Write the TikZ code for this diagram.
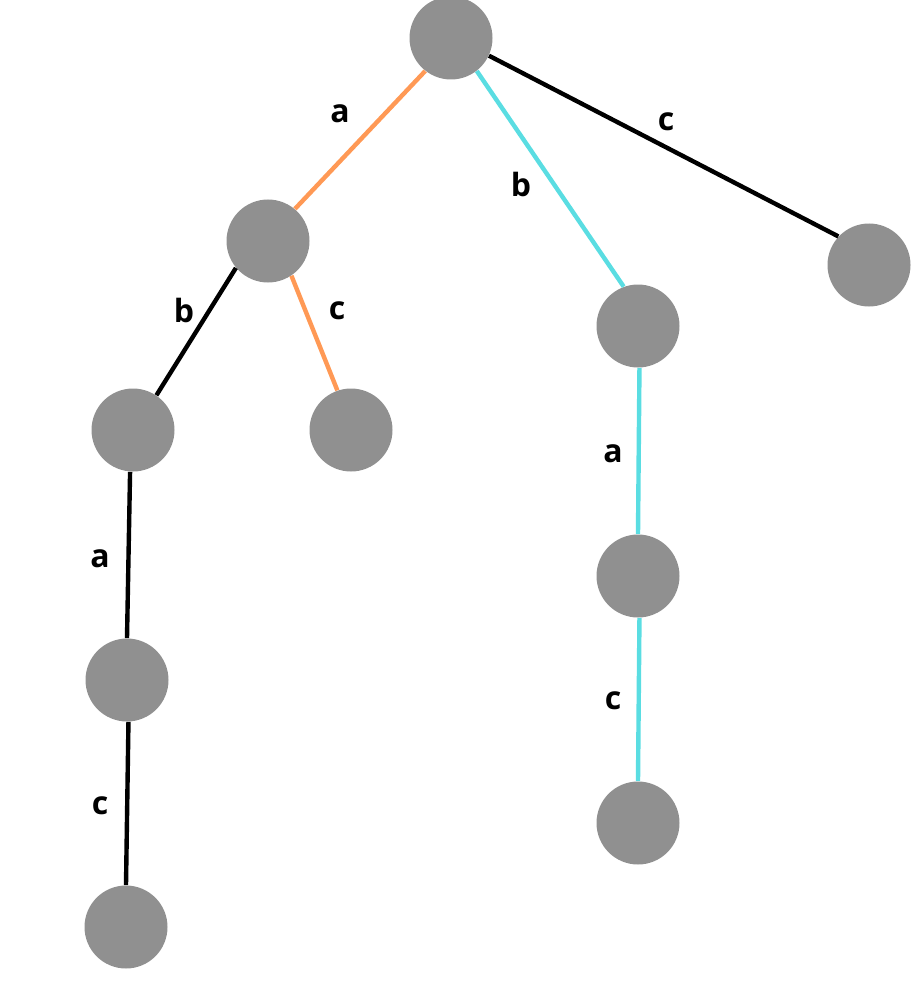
\documentclass[tikz,border=0pt]{standalone}
\usepackage{fontspec}
\setmainfont{Open Sans}
\definecolor{ngray}{HTML}{909090}
\definecolor{eorange}{HTML}{FF9955}
\definecolor{ecyan}{HTML}{5ADDE2}
\begin{document}
\begin{tikzpicture}[x=0.5pt,y=-0.5pt,
  vtx/.style={circle,fill=ngray,draw=none,minimum size=41.5pt,inner sep=0pt},
  edge/.style={line width=2.2pt},
  lbl/.style={font=\fontsize{16}{18}\selectfont\bfseries,inner sep=0pt}]
\useasboundingbox (0,0) rectangle (918,984);
\node[vtx] (r) at (451,38) {};
\node[vtx] (a) at (268,241) {};
\node[vtx] (b) at (638,326) {};
\node[vtx] (c) at (869,265) {};
\node[vtx] (ab) at (133,430) {};
\node[vtx] (ac) at (351,430) {};
\node[vtx] (aba) at (127,680) {};
\node[vtx] (abac) at (126,927) {};
\node[vtx] (ba) at (638,576) {};
\node[vtx] (bac) at (638,823) {};
\draw[edge,eorange] (r.232) -- (a.50);
\draw[edge,ecyan] (r.308) -- (b.110);
\draw[edge,black] (r.335) -- (c.137);
\draw[edge,black] (a.220) -- (ab.56);
\draw[edge,eorange] (a.304) -- (ac.109);
\draw[edge,black] (ab.266) -- (aba.90);
\draw[edge,black] (aba.272) -- (abac.90);
\draw[edge,ecyan] (b.272) -- (ba.90);
\draw[edge,ecyan] (ba.272) -- (bac.90);
\node[lbl] (l1) at (340,114) {a};
\node[lbl] (l2) at (521,185) {b};
\node[lbl] (l3) at (666,122) {c};
\node[lbl] (l4) at (184,310) {b};
\node[lbl] (l5) at (337,311) {c};
\node[lbl] (l6) at (100,559) {a};
\node[lbl] (l7) at (100,806) {c};
\node[lbl] (l8) at (613,454) {a};
\node[lbl] (l9) at (613,701) {c};
\end{tikzpicture}
\end{document}
